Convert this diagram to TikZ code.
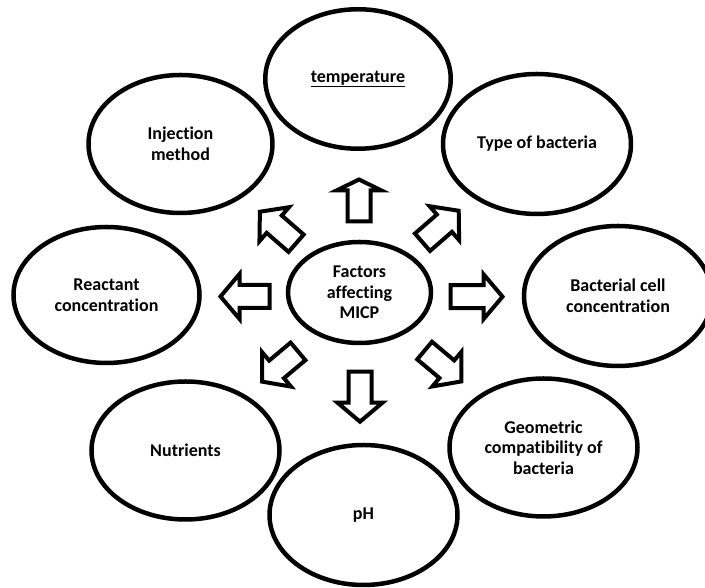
\documentclass[tikz,border=0pt]{standalone}
\usepackage{fontspec}
\setmainfont{Carlito}[Ligatures={NoCommon}]
\usetikzlibrary{shapes.geometric}
\tikzset{
  factor/.style={ellipse, draw=black, line width=4.5pt, inner sep=0pt, align=center,
    font=\fontsize{18}{20.5}\selectfont\bfseries, text=black},
  blockarrowline/.style={draw=black, fill=white, line width=4pt, line join=miter},
}
\newcommand{\blockarrow}[5]{%
  \begin{scope}[shift={(#1,#2)}, rotate=#3]
    \draw[blockarrowline] (-#4/2,-11.5) -- (#4/2-#5,-11.5) -- (#4/2-#5,-22.5) -- (#4/2,0)
      -- (#4/2-#5,22.5) -- (#4/2-#5,11.5) -- (-#4/2,11.5) -- cycle;
  \end{scope}}
\begin{document}
\begin{tikzpicture}[x=1pt,y=1pt]
  \useasboundingbox (0,0) rectangle (705,588);
  \clip (0,0) rectangle (705,588);
  \node[factor, minimum width=185.5pt, minimum height=139.5pt] (temp) at (358,509) {\underline{temperature}};
  \node[factor, minimum width=184pt, minimum height=138pt] (inj) at (180.5,444) {Injection\\method};
  \node[factor, minimum width=188pt, minimum height=140pt] (type) at (537,444) {Type of bacteria};
  \node[factor, minimum width=188pt, minimum height=140pt] (cell) at (618,292) {Bacterial cell\\concentration};
  \node[factor, minimum width=186pt, minimum height=136pt] (react) at (106.5,293) {Reactant\\concentration};
  \node[factor, minimum width=188pt, minimum height=138pt] (nutr) at (185.5,137.5) {Nutrients};
  \node[factor, minimum width=188pt, minimum height=140pt] (ph) at (363.5,73) {pH};
  \node[factor, minimum width=188pt, minimum height=138pt] (geom) at (543.5,140.5) {Geometric\\compatibility of\\bacteria};
  \node[factor, minimum width=143pt, minimum height=101pt] (micp) at (359.5,295.5) {Factors\\affecting\\MICP};
  \blockarrow{359}{387.5}{90}{42}{11}
  \blockarrow{360}{191.3}{-90}{50}{19}
  \blockarrow{476.5}{291.3}{0}{52}{19}
  \blockarrow{245}{291.5}{180}{49}{19}
  \blockarrow{278}{360.5}{139}{48}{19}
  \blockarrow{440.6}{361.5}{41}{48}{19}
  \blockarrow{280}{221.5}{220}{47}{19}
  \blockarrow{443}{222}{-40}{48}{19}
\end{tikzpicture}
\end{document}
